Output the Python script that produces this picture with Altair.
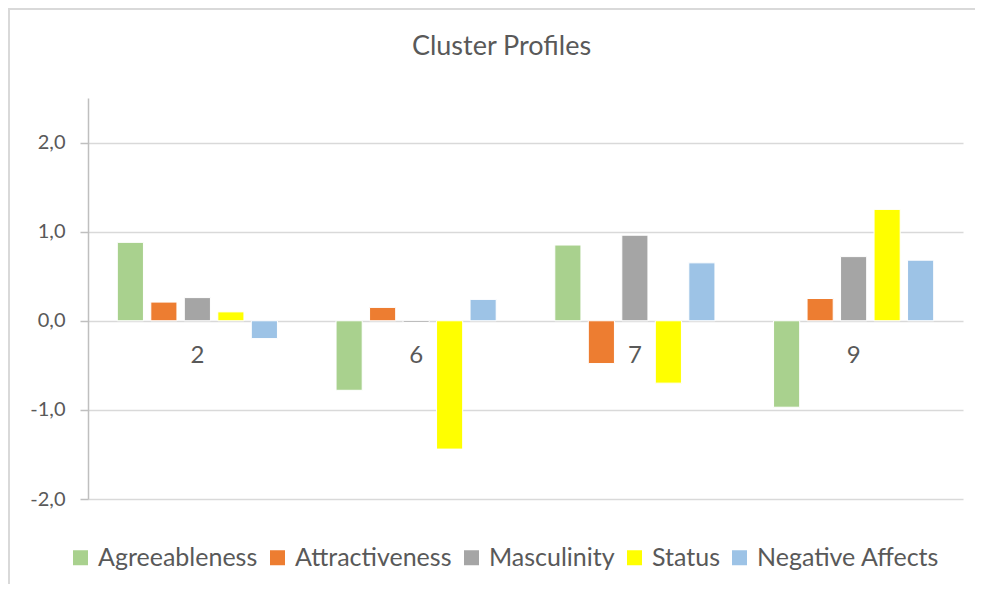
import altair as alt
import pandas as pd

clusters = ["2", "6", "7", "9"]
series = ["Agreeableness", "Attractiveness", "Masculinity", "Status", "Negative Affects"]
agreeableness = [0.88, -0.78, 0.85, -0.97]
attractiveness = [0.21, 0.15, -0.48, 0.25]
masculinity = [0.26, -0.02, 0.96, 0.72]
status = [0.10, -1.44, -0.70, 1.25]
negative_affects = [-0.20, 0.24, 0.65, 0.68]
colors = ["#A9D18E", "#ED7D31", "#A5A5A5", "#FFFF00", "#9DC3E6"]
y_ticks = [-2, -1, 0, 1, 2]

rows = []
for s, vals in zip(series, [agreeableness, attractiveness, masculinity, status, negative_affects]):
    for c, v in zip(clusters, vals):
        rows.append({"cluster": c, "series": s, "value": v})
df = pd.DataFrame(rows)

W, H = 875, 401
FONT = "Lato"
TXT = "#595959"

label_expr = "(datum.value < 0 ? '-' : '') + replace(format(abs(datum.value), '.1f'), '.', ',')"

bars = alt.Chart(df).mark_bar(stroke="white", strokeWidth=1).encode(
    x=alt.X("cluster:N", sort=clusters, axis=None,
            scale=alt.Scale(paddingInner=0, paddingOuter=0)),
    xOffset=alt.XOffset("series:N", sort=series,
                        scale=alt.Scale(paddingInner=0.22, paddingOuter=0.875)),
    y=alt.Y("value:Q", stack=None,
            scale=alt.Scale(domain=[-2, 2.5], nice=False, zero=False),
            axis=alt.Axis(values=y_ticks, labelExpr=label_expr, title=None,
                          grid=True, gridColor="#D9D9D9", gridWidth=1.5,
                          domainColor="#BFBFBF", domainWidth=1.5,
                          tickColor="#BFBFBF", tickSize=8, tickWidth=1.5,
                          labelFont=FONT, labelFontSize=20, labelColor=TXT,
                          labelPadding=15)),
    color=alt.Color("series:N", sort=series,
                    scale=alt.Scale(domain=series, range=colors),
                    legend=alt.Legend(title=None, orient="none", legendX=-20, legendY=447,
                                      direction="horizontal", symbolType="square",
                                      symbolSize=225, symbolStrokeWidth=0, symbolOpacity=1,
                                      labelFont=FONT, labelFontSize=25, labelColor=TXT,
                                      labelOffset=5, columnPadding=7, labelLimit=400,
                                      padding=0)),
)

labels = alt.Chart(pd.DataFrame({"cluster": clusters})).mark_text(
    font=FONT, fontSize=24, color=TXT, dy=35, baseline="middle"
).encode(
    x=alt.X("cluster:N", sort=clusters),
    text="cluster:N",
    y=alt.datum(0),
)

one = pd.DataFrame({"k": [0]})
top_border = alt.Chart(one).mark_rule(color="#D9D9D9", strokeWidth=2).encode(
    x=alt.value(-80), x2=alt.value(W + 12), y=alt.value(-89)
)
left_border = alt.Chart(one).mark_rule(color="#D9D9D9", strokeWidth=2).encode(
    x=alt.value(-79), y=alt.value(-90), y2=alt.value(H + 85)
)

chart = alt.layer(bars, labels, top_border, left_border).properties(
    width=W, height=H,
    padding={"left": 80, "top": 90, "right": 12, "bottom": 85},
    autosize=alt.AutoSizeParams(type="none"),
    title=alt.TitleParams("Cluster Profiles", anchor="middle", font=FONT, fontSize=27,
                          fontWeight="normal", color=TXT, offset=-54, dx=-24),
    background="white",
).configure_view(stroke=None)

chart.save("out.html", embed_options={"renderer": "svg", "actions": False})
